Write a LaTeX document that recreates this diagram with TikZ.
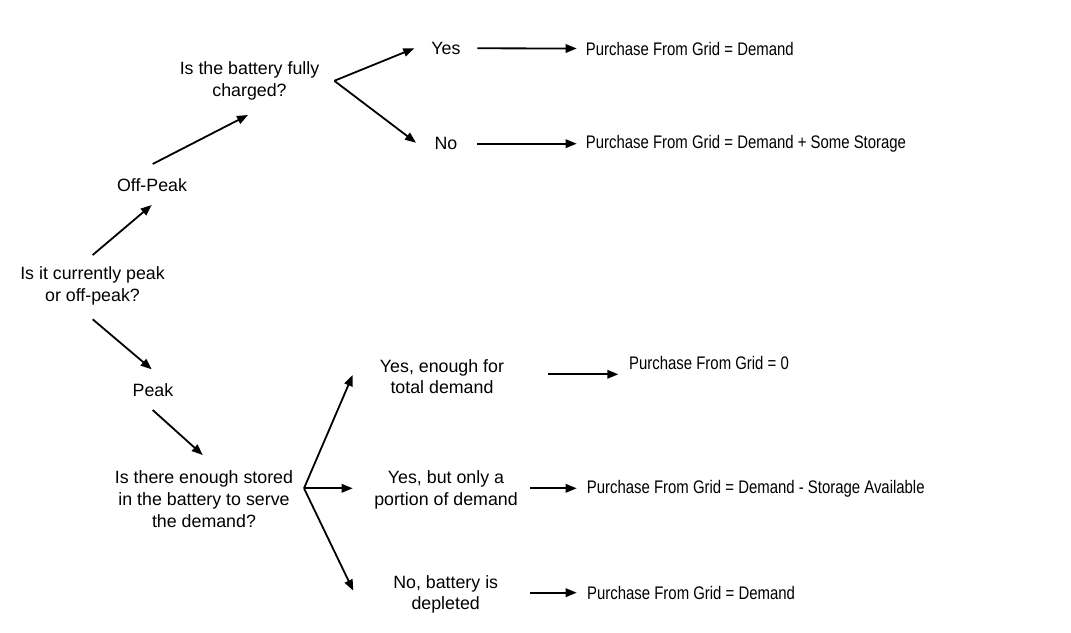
\documentclass[tikz,border=0pt]{standalone}
\usepackage{fontspec}
\setmainfont{Liberation Sans}
\newfontfamily\narrowfont[FakeStretch=0.82]{Liberation Sans}
\usetikzlibrary{arrows.meta,calc}
\tikzset{
  lbl/.style={inner sep=0pt, align=center, font=\fontsize{17.8}{21.7}\selectfont},
  res/.style={inner sep=0pt, anchor=west, font=\narrowfont\fontsize{18.2}{21.7}\selectfont},
  arr/.style={line width=1.8pt, -{Triangle[length=11pt,width=8.5pt]}}
}
\begin{document}
\begin{tikzpicture}[x=1pt,y=-1pt]
\fill[white] (0,0) rectangle (1071,632);
\useasboundingbox (0,0) rectangle (1071,632);
% nodes
\node[lbl] (root) at (92.5,286) {Is it currently peak\\or off-peak?};
\node[lbl] (offpeak) at (152,185.5) {Off-Peak};
\node[lbl] (batq) at (249.5,80.8) {Is the battery fully\\charged?};
\node[lbl] (yes) at (446,48.3) {Yes};
\node[lbl] (no) at (446,143.3) {No};
\node[res] (res1) at (585.7,48.5) {Purchase From Grid = Demand};
\node[res] (res2) at (585.7,144) {Purchase From Grid = Demand + Some Storage};
\node[lbl] (peak) at (153,390) {Peak};
\node[lbl] (stq) at (204,499.2) {Is there enough stored\\in the battery to serve\\the demand?};
\node[lbl] (ans1) at (442,376.7) {Yes, enough for\\total demand};
\node[lbl] (ans2) at (446,490) {Yes, but only a\\portion of demand};
\node[lbl] (ans3) at (445.7,594.3) {No, battery is\\depleted};
\node[res] (res3) at (629,362.5) {Purchase From Grid = 0};
\node[res] (res4) at (586.7,489.2) {Purchase From Grid = Demand - Storage Available};
\node[res] (res5) at (587,592.5) {Purchase From Grid = Demand};
% connectors
\draw[arr] ($(root)+(0.2,-31)$) -- ($(offpeak)+(-0.3,19.5)$);
\draw[arr] ($(offpeak)+(0.7,-21.5)$) -- ($(batq)+(-1.5,34.2)$);
\draw[arr] ($(batq)+(84.8,0)$) -- ($(yes)+(-31.7,0)$);
\draw[arr] ($(batq)+(84.8,0)$) -- ($(no)+(-30,-0.6)$);
\draw[arr] ($(yes)+(31.3,0)$) -- ($(res1.west)+(-9,0)$);
\draw[arr] ($(no)+(31.3,0.4)$) -- ($(res2.west)+(-9,-0.3)$);
\draw[arr] ($(root)+(0.2,33.3)$) -- ($(peak)+(-1.3,-20.7)$);
\draw[arr] ($(peak)+(-0.3,20)$) -- ($(stq)+(-1.3,-44.2)$);
\draw[arr] ($(stq)+(100,-10.9)$) -- ($(ans1)+(-89.3,-1.7)$);
\draw[arr] ($(stq)+(100,-10.9)$) -- ($(ans2)+(-93.3,-1.7)$);
\draw[arr] ($(stq)+(100,-10.9)$) -- ($(ans3)+(-92.4,-3.6)$);
\draw[arr] ($(ans1)+(106.3,-2.4)$) -- ($(res3.west)+(-10.7,11.8)$);
\draw[arr] ($(ans2)+(84,-1.7)$) -- ($(res4.west)+(-10,-0.9)$);
\draw[arr] ($(ans3)+(84.3,-1.6)$) -- ($(res5.west)+(-10.3,0.2)$);
\end{tikzpicture}
\end{document}
